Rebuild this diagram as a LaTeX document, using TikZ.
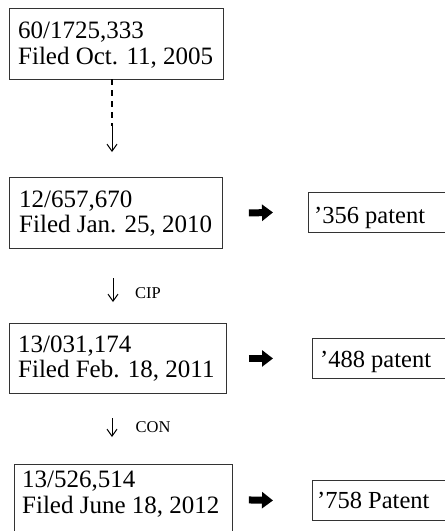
\documentclass[tikz,border=0pt]{standalone}
\usepackage{fontspec}
\setmainfont{Liberation Serif}
\usetikzlibrary{arrows.meta}
\begin{document}
\begin{tikzpicture}[x=1pt,y=-1pt,
  box/.style={draw=black!80, line width=0.9pt, rectangle, inner sep=0pt, anchor=north west},
  txt/.style={anchor=base west, inner sep=0pt, font=\fontsize{25}{27}\selectfont},
  ptxt/.style={anchor=base west, inner sep=0pt, font=\fontsize{24.5}{27}\selectfont},
  small/.style={inner sep=0pt, font=\fontsize{16.5}{18}\selectfont},
  thin/.style={line width=1pt, -{Straight Barb[length=7pt,width=10pt]}},
  fat/.style={line width=7pt, -{Triangle[length=11pt,width=16pt]}}]
\useasboundingbox (0,0) rectangle (445,531);
\clip (0,0) rectangle (445,531);
% application boxes
\node[box, minimum width=214pt, minimum height=71pt] (b1) at (9,8) {};
\node[box, minimum width=213pt, minimum height=71pt] (b2) at (9,177) {};
\node[box, minimum width=217pt, minimum height=70pt] (b3) at (9,323) {};
\node[box, minimum width=218pt, minimum height=71pt] (b4) at (14,464) {};
% patent boxes
\node[box, minimum width=160pt, minimum height=40pt] (p1) at (308,192) {};
\node[box, minimum width=160pt, minimum height=40pt] (p2) at (312,338) {};
\node[box, minimum width=160pt, minimum height=40pt] (p3) at (312,480) {};
% texts
\node[txt] (t1a) at (18,38) {60/1725,333};
\node[txt] (t1b) at (18,64) {Filed Oct. 11, 2005};
\node[txt] (t2a) at (19,207) {12/657,670};
\node[txt] (t2b) at (19,232) {Filed Jan. 25, 2010};
\node[txt] (t3a) at (18,352) {13/031,174};
\node[txt] (t3b) at (18,377) {Filed Feb. 18, 2011};
\node[txt] (t4a) at (22,487) {13/526,514};
\node[txt] (t4b) at (22,513) {Filed June 18, 2012};
\node[ptxt] (q1) at (314,223) {'356 patent};
\node[ptxt] (q2) at (320,367) {'488 patent};
\node[ptxt] (q3) at (317,508) {'758 Patent};
% dashed priority arrow
\coordinate (d1) at (112,79);
\coordinate (d2) at (112,126);
\coordinate (d3) at (112,152);
\draw[line width=1.6pt, dash pattern=on 6pt off 5pt] (d1) -- (d2);
\draw[thin] (d2) -- (d3);
% CIP
\coordinate (c1) at (113,278);
\coordinate (c2) at (113,302);
\draw[thin] (c1) -- (c2);
\node[small] (cip) at (148,293) {CIP};
% CON
\coordinate (e1) at (112,418);
\coordinate (e2) at (112,437);
\draw[thin] (e1) -- (e2);
\node[small] (con) at (153,427) {CON};
% fat arrows
\draw[fat] ([xshift=26pt]b2.east) -- ([xshift=-35pt]p1.west);
\draw[fat] ([xshift=22pt]b3.east) -- ([xshift=-39pt]p2.west);
\draw[fat] ([xshift=16pt]b4.east) -- ([xshift=-39pt]p3.west);
\end{tikzpicture}
\end{document}
